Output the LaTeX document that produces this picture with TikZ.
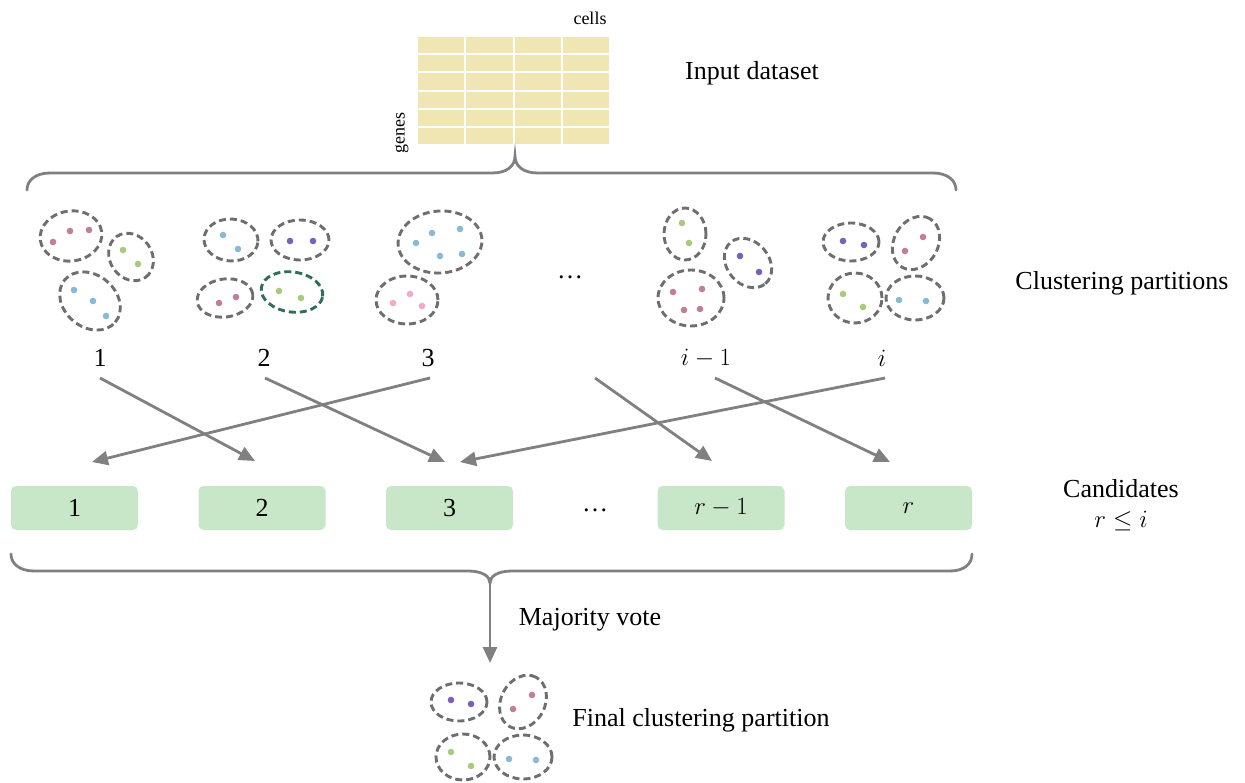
\documentclass[tikz,border=0pt]{standalone}
\usepackage{fontspec}
\setmainfont{Liberation Serif}
\usetikzlibrary{arrows.meta,calc}
\definecolor{mauve}{HTML}{C47C9B}
\definecolor{leaf}{HTML}{A9C97D}
\definecolor{sky}{HTML}{87BAD6}
\definecolor{violet}{HTML}{7B5FBE}
\definecolor{rose}{HTML}{F5A9C8}
\definecolor{dashgray}{HTML}{6E6E6E}
\definecolor{tealc}{HTML}{2F6D5C}
\definecolor{linegray}{HTML}{808080}
\definecolor{cellfill}{HTML}{EFE6B3}
\definecolor{candfill}{HTML}{C8E7C8}
\tikzset{
  txt/.style={font=\fontsize{26}{30}\selectfont, inner sep=0pt},
  small/.style={font=\fontsize{18}{22}\selectfont, inner sep=0pt},
  clus/.style={draw=dashgray, line width=2.9pt, dash pattern=on 7pt off 4pt},
  clusg/.style={draw=tealc, line width=2.9pt, dash pattern=on 7pt off 4pt},
  flow/.style={draw=linegray, line width=2.8pt, -{Triangle[length=16pt,width=14pt]}},
  brace/.style={draw=linegray, line width=2.8pt, line cap=round},
  cand/.style={fill=candfill, rounded corners=5pt, minimum width=127pt, minimum height=44pt, inner sep=0pt, font=\fontsize{26}{30}\selectfont}
}
\newcommand{\myell}[6]{% cx cy rx ry rot style
  \draw[#6, rotate around={#5:(#1,#2)}] (#1,#2) ellipse [x radius=#3pt, y radius=#4pt];}
\newcommand{\mydot}[3]{\fill[#3] (#1,#2) circle [radius=3.3pt];}
\begin{document}
\begin{tikzpicture}[x=1pt,y=-1pt]
\useasboundingbox (0,0) rectangle (1245,783);
% data grid
\foreach \c in {0,...,3} {
  \foreach \r in {0,...,5} {
    \fill[cellfill] ({417+\c*48.25+1},{36+\r*18.17+1}) rectangle ({417+(\c+1)*48.25-1},{36+(\r+1)*18.17-1});
  }
}
\node[small] (cells) at (590,18) {cells};
\node[small, rotate=90] (genes) at (402,133) {genes};
\node[txt] (input) at (752,73) {Input dataset};
% top brace
\draw[brace] (27,190) .. controls (27,180) and (36,173) .. (50,173) -- (492,173)
  .. controls (507,173) and (515,166) .. (515,156)
  .. controls (515,166) and (523,173) .. (538,173) -- (933,173)
  .. controls (947,173) and (956,180) .. (956,190);
% partition 1
\myell{71}{236}{31}{25}{8}{clus}
\mydot{53}{242}{mauve}\mydot{70}{231}{mauve}\mydot{89}{230}{mauve}
\myell{131}{257}{25}{21}{-55}{clus}
\mydot{123}{250}{leaf}\mydot{138}{264}{leaf}
\myell{90}{301}{33}{26}{-40}{clus}
\mydot{74}{290}{sky}\mydot{93}{301}{sky}\mydot{106}{316}{sky}
% partition 2
\myell{231}{240}{27}{21}{-3}{clus}
\mydot{223}{235}{sky}\mydot{238}{249}{sky}
\myell{300}{240}{29}{20}{0}{clus}
\mydot{290}{241}{violet}\mydot{313}{241}{violet}
\myell{225}{298}{28}{19}{8}{clus}
\mydot{219}{303}{mauve}\mydot{236}{297}{mauve}
\myell{292}{292}{31}{20}{-8}{clusg}
\mydot{279}{291}{leaf}\mydot{301}{298}{leaf}
% partition 3
\myell{440}{242}{42}{31}{4}{clus}
\mydot{416}{243}{sky}\mydot{432}{233}{sky}\mydot{460}{229}{sky}\mydot{440}{256}{sky}\mydot{462}{254}{sky}
\myell{407}{300}{31}{24}{0}{clus}
\mydot{393}{303}{rose}\mydot{410}{294}{rose}\mydot{422}{306}{rose}
\node[txt] (dots1) at (570,277) {\ldots};
% partition i-1
\myell{685}{234}{21}{26}{0}{clus}
\mydot{682}{223}{leaf}\mydot{689}{243}{leaf}
\myell{748}{263}{27}{21}{-50}{clus}
\mydot{740}{256}{violet}\mydot{759}{272}{violet}
\myell{691}{298}{33}{28}{0}{clus}
\mydot{673}{292}{mauve}\mydot{702}{289}{mauve}\mydot{684}{310}{mauve}\mydot{700}{309}{mauve}
% partition i
\myell{851}{242}{28}{19}{0}{clus}
\mydot{843}{241}{violet}\mydot{864}{245}{violet}
\myell{916}{243}{28}{22}{60}{clus}
\mydot{923}{237}{mauve}\mydot{905}{251}{mauve}
\myell{855}{298}{27}{25}{0}{clus}
\mydot{843}{294}{leaf}\mydot{863}{307}{leaf}
\myell{915}{298}{29}{22}{0}{clus}
\mydot{899}{300}{sky}\mydot{926}{301}{sky}
\node[txt] (clp) at (1122,283) {Clustering partitions};
% labels
\node[txt] (l1) at (100,358) {1};
\node[txt] (l2) at (264,358) {2};
\node[txt] (l3) at (428,358) {3};
\node[txt] (l4) at (706,358) {$i-1$};
\node[txt] (l5) at (882,358) {$i$};
% arrow coordinates
\coordinate (s1) at (100,378); \coordinate (e1) at (255,461);
\coordinate (s2) at (265,378); \coordinate (e2) at (445,462);
\coordinate (s3) at (430,378); \coordinate (e3) at (92,462);
\coordinate (s4) at (595,378); \coordinate (e4) at (712,461);
\coordinate (s5) at (715,378); \coordinate (e5) at (890,462);
\coordinate (s6) at (885,378); \coordinate (e6) at (460,462);
\draw[flow] (s1) -- (e1);
\draw[flow] (s2) -- (e2);
\draw[flow] (s3) -- (e3);
\draw[flow] (s4) -- (e4);
\draw[flow] (s5) -- (e5);
\draw[flow] (s6) -- (e6);
% candidates
\node[cand] (c1) at (74.5,508) {1};
\node[cand] (c2) at (262,508) {2};
\node[cand] (c3) at (449.5,508) {3};
\node[txt] (dots2) at (595,510) {\ldots};
\node[cand] (c4) at (721,508) {$r-1$};
\node[cand] (c5) at (908.5,508) {$r$};
\node[txt] (candl) at (1121,489) {Candidates};
\node[txt] (candr) at (1121,521) {$r\le i$};
% bottom brace
\draw[brace] (11,554) .. controls (11,564) and (20,571) .. (34,571) -- (468,571)
  .. controls (482,571) and (490,576) .. (490,583)
  .. controls (490,576) and (498,571) .. (512,571) -- (950,571)
  .. controls (964,571) and (972,564) .. (972,554);
\coordinate (bt) at (490,583);
\coordinate (bh) at (490,663);
\draw[flow] (bt) -- (bh);
\node[txt] (mv) at (590,620) {Majority vote};
% final partition
\myell{459}{702}{28}{19}{0}{clus}
\mydot{451}{700}{violet}\mydot{471}{704}{violet}
\myell{523}{702}{28}{22}{62}{clus}
\mydot{532}{695}{mauve}\mydot{513}{709}{mauve}
\myell{463}{757}{27}{23}{0}{clus}
\mydot{451}{752}{leaf}\mydot{471}{766}{leaf}
\myell{523}{757}{29}{22}{0}{clus}
\mydot{509}{759}{sky}\mydot{536}{760}{sky}
\node[txt] (fin) at (701,720) {Final clustering partition};
\end{tikzpicture}
\end{document}
